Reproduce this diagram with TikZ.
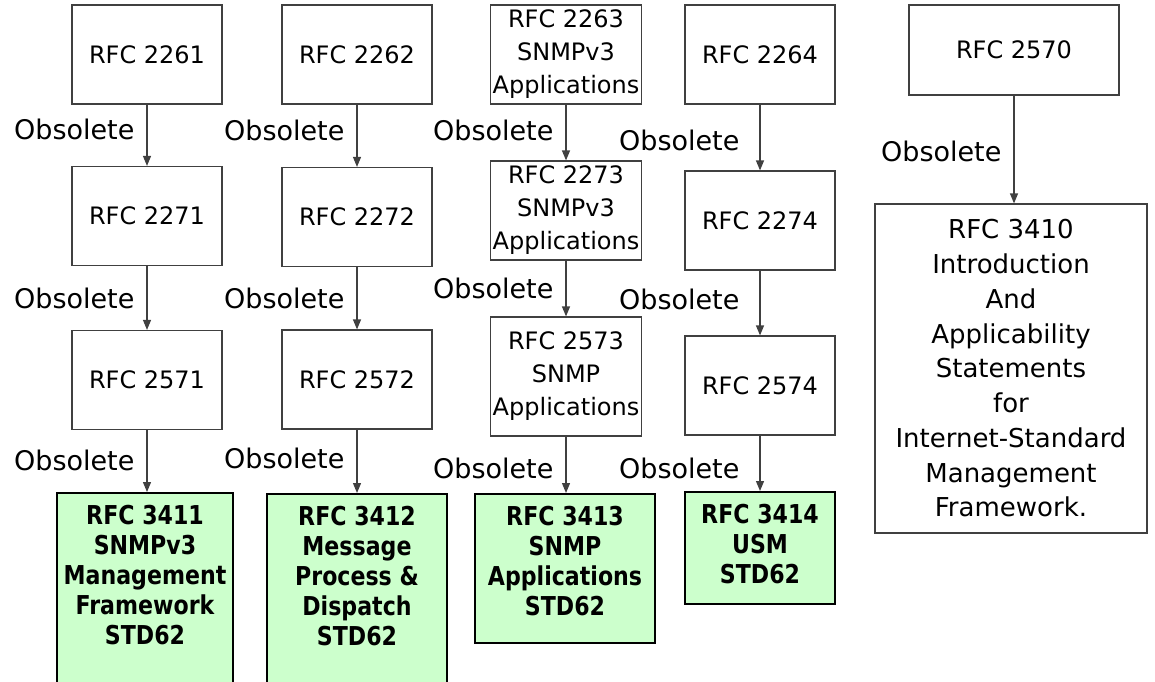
\documentclass[tikz,border=0pt]{standalone}
\usepackage{fontspec}
\setmainfont{DejaVu Sans}
\newfontfamily\stdfont{DejaVu Sans}[FakeStretch=0.85]
\usepackage{xcolor}
\usetikzlibrary{arrows.meta}
\definecolor{stdgreen}{RGB}{204,255,204}
\definecolor{boxgray}{RGB}{64,64,64}
\newcommand{\stdtext}[3]{\parbox[c][#1][t]{#2}{\centering #3}}

\begin{document}
\begin{tikzpicture}[x=1pt,y=-1pt,
  rfc/.style={draw=boxgray,line width=1.2pt,minimum width=150pt,minimum height=99pt,
              align=center,inner sep=2pt,font=\fontsize{24}{33}\selectfont},
  std/.style={draw=black,line width=1.6pt,fill=stdgreen,anchor=north,
              inner xsep=0pt,inner ysep=12pt,
              font=\stdfont\bfseries\fontsize{26}{30}\selectfont},
  arrow/.style={-{Triangle[length=10pt,width=8pt]},line width=1.2pt,draw=boxgray},
  obs/.style={left=12pt,inner sep=0pt,font=\fontsize{27}{30}\selectfont}
]
\useasboundingbox (0,0) rectangle (1155,681);

% Column 1: management framework.
\node[rfc] (r2261) at (147,54.5) {RFC 2261};
\node[rfc] (r2271) at (147,216) {RFC 2271};
\node[rfc] (r2571) at (147,380) {RFC 2571};
\node[std] (r3411) at (145,492)
  {\stdtext{184pt}{176pt}{RFC 3411\\SNMPv3\\Management\\Framework\\STD62}};

% Column 2: message processing.
\node[rfc] (r2262) at (357,54.5) {RFC 2262};
\node[rfc] (r2272) at (357,217) {RFC 2272};
\node[rfc] (r2572) at (357,379.5) {RFC 2572};
\node[std] (r3412) at (357,493)
  {\stdtext{184pt}{180pt}{RFC 3412\\Message\\Process \&\\Dispatch\\STD62}};

% Column 3: applications.
\node[rfc] (r2263) at (566,54.5) {RFC 2263\\SNMPv3\\Applications};
\node[rfc] (r2273) at (566,210.5) {RFC 2273\\SNMPv3\\Applications};
\node[rfc,minimum height=119pt] (r2573) at (566,376.5) {RFC 2573\\SNMP\\Applications};
\node[std] (r3413) at (565,493)
  {\stdtext{125pt}{180pt}{RFC 3413\\SNMP\\Applications\\STD62}};

% Column 4: user-based security model.
\node[rfc] (r2264) at (760,54.5) {RFC 2264};
\node[rfc] (r2274) at (760,220.5) {RFC 2274};
\node[rfc] (r2574) at (760,385.5) {RFC 2574};
\node[std] (r3414) at (760,491)
  {\stdtext{88pt}{150pt}{RFC 3414\\USM\\STD62}};

% Column 5: introduction.
\node[rfc,minimum width=210pt,minimum height=90pt] (r2570) at (1014,50) {RFC 2570};
\node[rfc,minimum width=272pt,minimum height=329pt,font=\fontsize{26}{34.75}\selectfont]
  (r3410) at (1011,368.5)
  {RFC 3410\\Introduction\\And\\Applicability\\Statements\\for\\
   Internet-Standard\\Management\\Framework.};

% Obsoleted-by chains.
\draw[arrow] (r2261) -- node[obs,pos=.41] {Obsolete} (r2271);
\draw[arrow] (r2271) -- node[obs,pos=.5] {Obsolete} (r2571);
\draw[arrow] (r2571) -- node[obs,pos=.49] {Obsolete} (r2571 |- r3411.north);
\draw[arrow] (r2262) -- node[obs,pos=.41] {Obsolete} (r2272);
\draw[arrow] (r2272) -- node[obs,pos=.5] {Obsolete} (r2572);
\draw[arrow] (r2572) -- node[obs,pos=.46] {Obsolete} (r3412);
\draw[arrow] (r2263) -- node[obs,pos=.46] {Obsolete} (r2273);
\draw[arrow] (r2273) -- node[obs,pos=.49] {Obsolete} (r2573);
\draw[arrow] (r2573) -- node[obs,pos=.56] {Obsolete} (r2573 |- r3413.north);
\draw[arrow] (r2264) -- node[obs,left=8pt,pos=.54] {Obsolete} (r2274);
\draw[arrow] (r2274) -- node[obs,left=8pt,pos=.44] {Obsolete} (r2574);
\draw[arrow] (r2574) -- node[obs,left=8pt,pos=.59] {Obsolete} (r3414);
\draw[arrow] (r2570) -- node[obs,pos=.52] {Obsolete} (r2570 |- r3410.north);
\end{tikzpicture}
\end{document}
